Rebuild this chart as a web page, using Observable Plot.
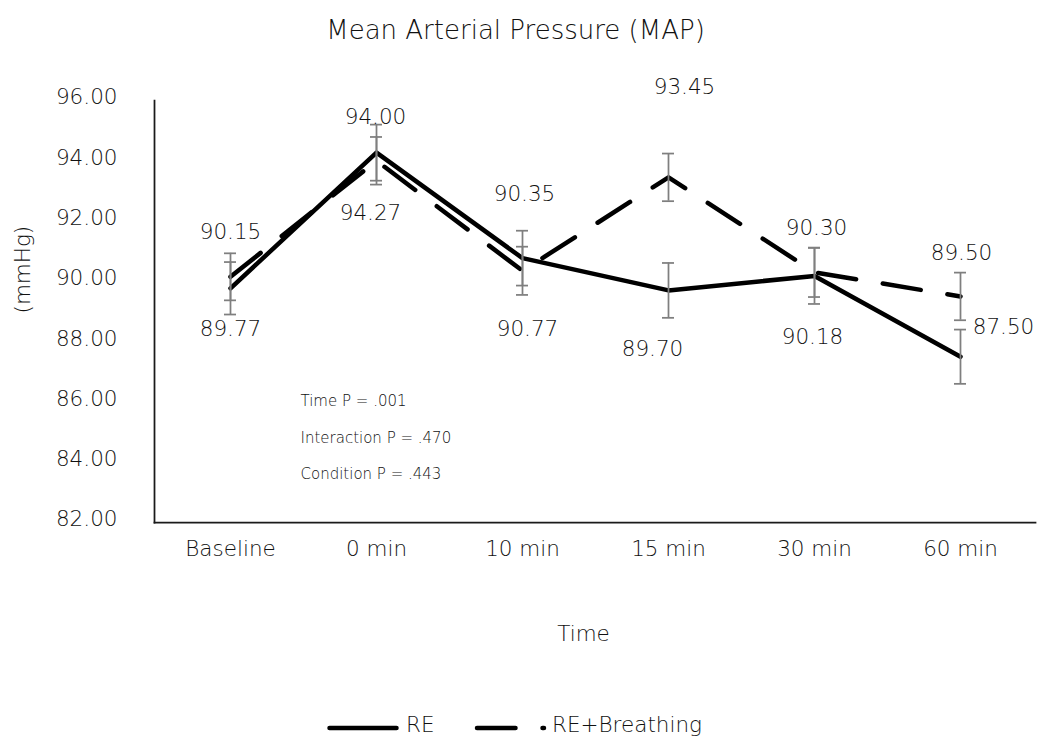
<!DOCTYPE html>
<html>
<head>
<meta charset="utf-8">
<script src="https://cdn.jsdelivr.net/npm/d3@7"></script>
<script src="https://cdn.jsdelivr.net/npm/@observablehq/plot@0.6"></script>
<style>
  body { margin: 0; background: #fff; font-family: "DejaVu Sans", sans-serif; }
  #wrap { position: relative; width: 1043px; height: 740px; overflow: hidden; }
  #legend { position: absolute; left: 0; top: 700px; width: 1043px; height: 40px; }
  svg text { font-weight: 200; }
</style>
</head>
<body>
<div id="wrap"><div id="chart"></div><div id="legend"></div></div>
<script>
// ---- data ----
const categories = ["Baseline", "0 min", "10 min", "15 min", "30 min", "60 min"];
const reValues = [89.77, 94.27, 90.77, 89.70, 90.18, 87.50];
const rbValues = [90.15, 94.00, 90.35, 93.45, 90.30, 89.50];
const reErrors = [0.87, 0.93, 0.91, 0.91, 0.93, 0.90];
const rbErrors = [0.78, 0.79, 0.80, 0.79, 0.82, 0.79];
const yTicks = [82, 84, 86, 88, 90, 92, 94, 96];
const seriesNames = ["RE", "RE+Breathing"];
const statLines = ["Time P = .001", "Interaction P = .470", "Condition P = .443"];
const titleText = "Mean Arterial Pressure (MAP)";
const xTitle = "Time";
const yTitle = "(mmHg)";

// ---- label placement (pixel offsets from each point, as in the reference) ----
const reLabelDx = [0, -6, 5, -16, -2, 43];
const reLabelDy = [41, 60, 71, 59, 61, -30];
const rbLabelDx = [0, -1, 2, 16, 2, 1];
const rbLabelDy = [-45, -44, -77, -90, -44, -43];

const reData = categories.map((c, i) => ({cat: c, value: reValues[i], err: reErrors[i]}));
const rbData = categories.map((c, i) => ({cat: c, value: rbValues[i], err: rbErrors[i]}));

const FONT = 21.5;
const TXT = "#111";
const ERR = "#7f7f7f";
const DASH = "38.5,27";

function errorMarks(data) {
  return [
    Plot.ruleX(data, {x: "cat", y1: d => d.value - d.err, y2: d => d.value + d.err, stroke: ERR, strokeWidth: 1.75}),
    Plot.ruleY(data, {x1: "cat", x2: "cat", y: d => d.value + d.err, insetLeft: -6, insetRight: -6, stroke: ERR, strokeWidth: 1.75}),
    Plot.ruleY(data, {x1: "cat", x2: "cat", y: d => d.value - d.err, insetLeft: -6, insetRight: -6, stroke: ERR, strokeWidth: 1.75})
  ];
}

function labelMarks(data, dxs, dys) {
  return data.map((d, i) => Plot.text([d], {
    x: "cat", y: "value", text: e => e.value.toFixed(2),
    dx: dxs[i], dy: dys[i], fontSize: FONT, fill: TXT
  }));
}

const chart = Plot.plot({
  width: 1043,
  height: 700,
  marginLeft: 154,
  marginRight: 8,
  marginTop: 100,
  marginBottom: 178,
  style: {fontFamily: "DejaVu Sans, sans-serif", fontSize: FONT + "px", color: TXT, background: "#fff", overflow: "visible"},
  x: {type: "point", domain: categories, padding: 0.5},
  y: {domain: [82, 96]},
  marks: [
    Plot.axisX({tickSize: 0, tickPadding: 18, fontSize: FONT, label: null, fill: TXT}),
    Plot.axisY({ticks: yTicks, tickFormat: d => d.toFixed(2), tickSize: 0, tickPadding: 37, dy: -3, fontSize: FONT, label: null, fill: TXT}),
    Plot.frame({anchor: "left", stroke: "#1a1a1a", strokeWidth: 1.75}),
    Plot.frame({anchor: "bottom", stroke: "#1a1a1a", strokeWidth: 1.75}),
    Plot.line(reData, {x: "cat", y: "value", stroke: "#000", strokeWidth: 4.5, strokeLinejoin: "round", strokeLinecap: "round"}),
    Plot.line(rbData, {x: "cat", y: "value", stroke: "#000", strokeWidth: 4.5, strokeLinejoin: "round", strokeLinecap: "round", strokeDasharray: DASH}),
    ...errorMarks(reData),
    ...errorMarks(rbData),
    ...labelMarks(rbData, rbLabelDx, rbLabelDy),
    ...labelMarks(reData, reLabelDx, reLabelDy),
    Plot.text([statLines.join("\n")], {frameAnchor: "top-left", textAnchor: "start", lineAnchor: "middle", lineHeight: 2.43, dx: 146, dy: 330.5, fontSize: 15, fill: TXT}),
    Plot.text([titleText], {frameAnchor: "top", lineAnchor: "middle", dx: -79.5, dy: -70, fontSize: 26, fill: TXT}),
    Plot.text([xTitle], {frameAnchor: "bottom", lineAnchor: "middle", dx: -11.5, dy: 112, fontSize: FONT, fill: TXT}),
    Plot.text([yTitle], {frameAnchor: "left", lineAnchor: "middle", rotate: -90, dx: -131, dy: 2, fontSize: FONT, fill: TXT})
  ]
});
document.getElementById("chart").appendChild(chart);

// ---- legend ----
const ns = "http://www.w3.org/2000/svg";
const lg = document.createElementNS(ns, "svg");
lg.setAttribute("width", 1043);
lg.setAttribute("height", 40);
const items = [
  {name: seriesNames[0], x1: 329.5, x2: 396.5, tx: 406, dash: null},
  {name: seriesNames[1], x1: 477, x2: 544, tx: 552, dash: DASH}
];
for (const it of items) {
  const ln = document.createElementNS(ns, "line");
  ln.setAttribute("x1", it.x1); ln.setAttribute("x2", it.x2);
  ln.setAttribute("y1", 28); ln.setAttribute("y2", 28);
  ln.setAttribute("stroke", "#000"); ln.setAttribute("stroke-width", 4.5);
  ln.setAttribute("stroke-linecap", "round");
  if (it.dash) ln.setAttribute("stroke-dasharray", it.dash);
  lg.appendChild(ln);
  const tx = document.createElementNS(ns, "text");
  tx.setAttribute("x", it.tx); tx.setAttribute("y", 32);
  tx.setAttribute("font-family", "DejaVu Sans, sans-serif");
  tx.setAttribute("font-size", FONT);
  tx.setAttribute("fill", TXT);
  tx.textContent = it.name;
  lg.appendChild(tx);
}
document.getElementById("legend").appendChild(lg);
</script>
</body>
</html>
